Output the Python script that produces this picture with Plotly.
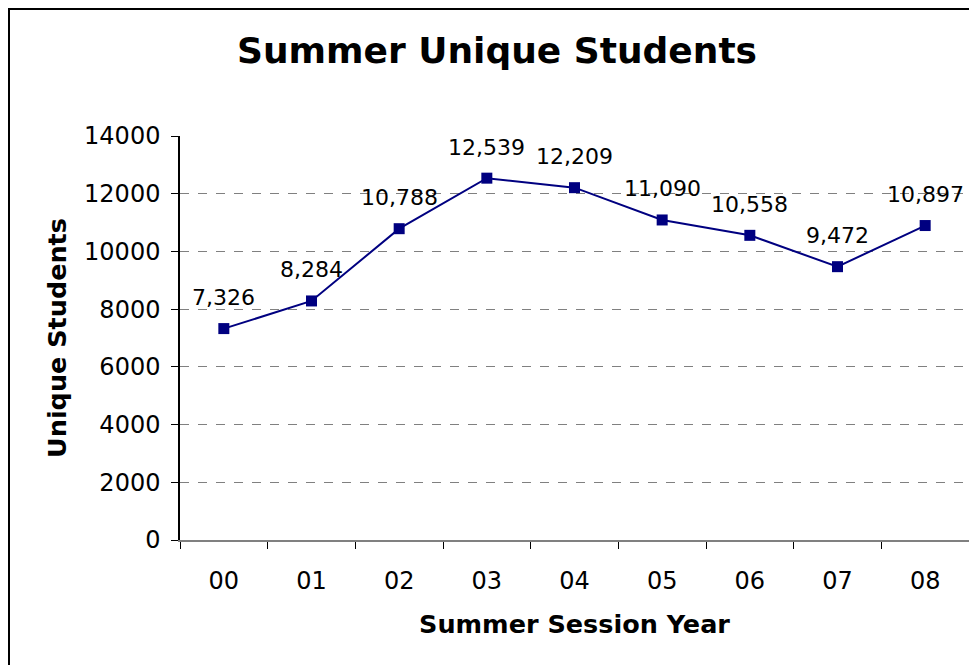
import plotly.graph_objects as go

years = ["00", "01", "02", "03", "04", "05", "06", "07", "08"]
students = [7326, 8284, 10788, 12539, 12209, 11090, 10558, 9472, 10897]
y_ticks = [0, 2000, 4000, 6000, 8000, 10000, 12000, 14000]

FONT = "DejaVu Sans"
OFF = 8  # page body margin in the exported html
W, H = 977 - OFF, 665 - OFF
ML, MT = 180 - OFF, 136 - OFF
PW, PH = 789, 404
MR, MB = W - ML - PW, H - MT - PH

fig = go.Figure()
fig.add_trace(go.Scatter(
    x=years, y=students, mode="lines+markers",
    line=dict(color="#000080", width=2),
    marker=dict(symbol="square", size=11, color="#000080"),
    cliponaxis=False, hoverinfo="skip",
))

for yr, v in zip(years, students):
    fig.add_annotation(x=yr, y=v, text=f"{v:,}", showarrow=False,
                       yshift=31, font=dict(family=FONT, size=22, color="#000"))

def px_x(p):
    return (p - OFF - ML) / PW

def px_y(p):
    return (H - MB - (p - OFF)) / PH

fig.add_shape(type="rect", xref="paper", yref="paper",
              x0=px_x(9), x1=px_x(977 + 20), y0=px_y(665 + 20), y1=px_y(9),
              line=dict(color="#000", width=2), fillcolor="rgba(0,0,0,0)", layer="below")

fig.update_layout(
    width=W, height=H,
    margin=dict(l=ML, r=MR, t=MT, b=MB),
    paper_bgcolor="white", plot_bgcolor="white",
    showlegend=False,
    font=dict(family=FONT, color="#000"),
    title=dict(text="<b>Summer Unique Students</b>", x=(497 - OFF) / W, xanchor="center",
               y=1 - (50 - OFF) / H, yanchor="middle",
               font=dict(family=FONT, size=36, color="#000")),
    xaxis=dict(
        type="category", range=[-0.5, 8.5], tickson="boundaries",
        ticks="outside", ticklen=7, tickcolor="#000", tickwidth=1,
        showline=True, linecolor="#808080", linewidth=2,
        showgrid=False, zeroline=False,
        tickfont=dict(family=FONT, size=24, color="#000"),
        ticklabelstandoff=18,
        title=dict(text="<b>Summer Session Year</b>", standoff=21,
                   font=dict(family=FONT, size=25.5, color="#000")),
    ),
    yaxis=dict(
        range=[0, 14000], tickmode="array", tickvals=y_ticks,
        tickformat="d",
        ticks="outside", ticklen=7, tickcolor="#000", tickwidth=1,
        showline=True, linecolor="#000", linewidth=1.5,
        showgrid=True, gridcolor="#808080", griddash="dash", gridwidth=1,
        zeroline=False,
        tickfont=dict(family=FONT, size=24, color="#000"),
        ticklabelstandoff=6,
        title=dict(text="<b>Unique Students</b>", standoff=10,
                   font=dict(family=FONT, size=25.5, color="#000")),
    ),
)

fig.write_html("out.html")
